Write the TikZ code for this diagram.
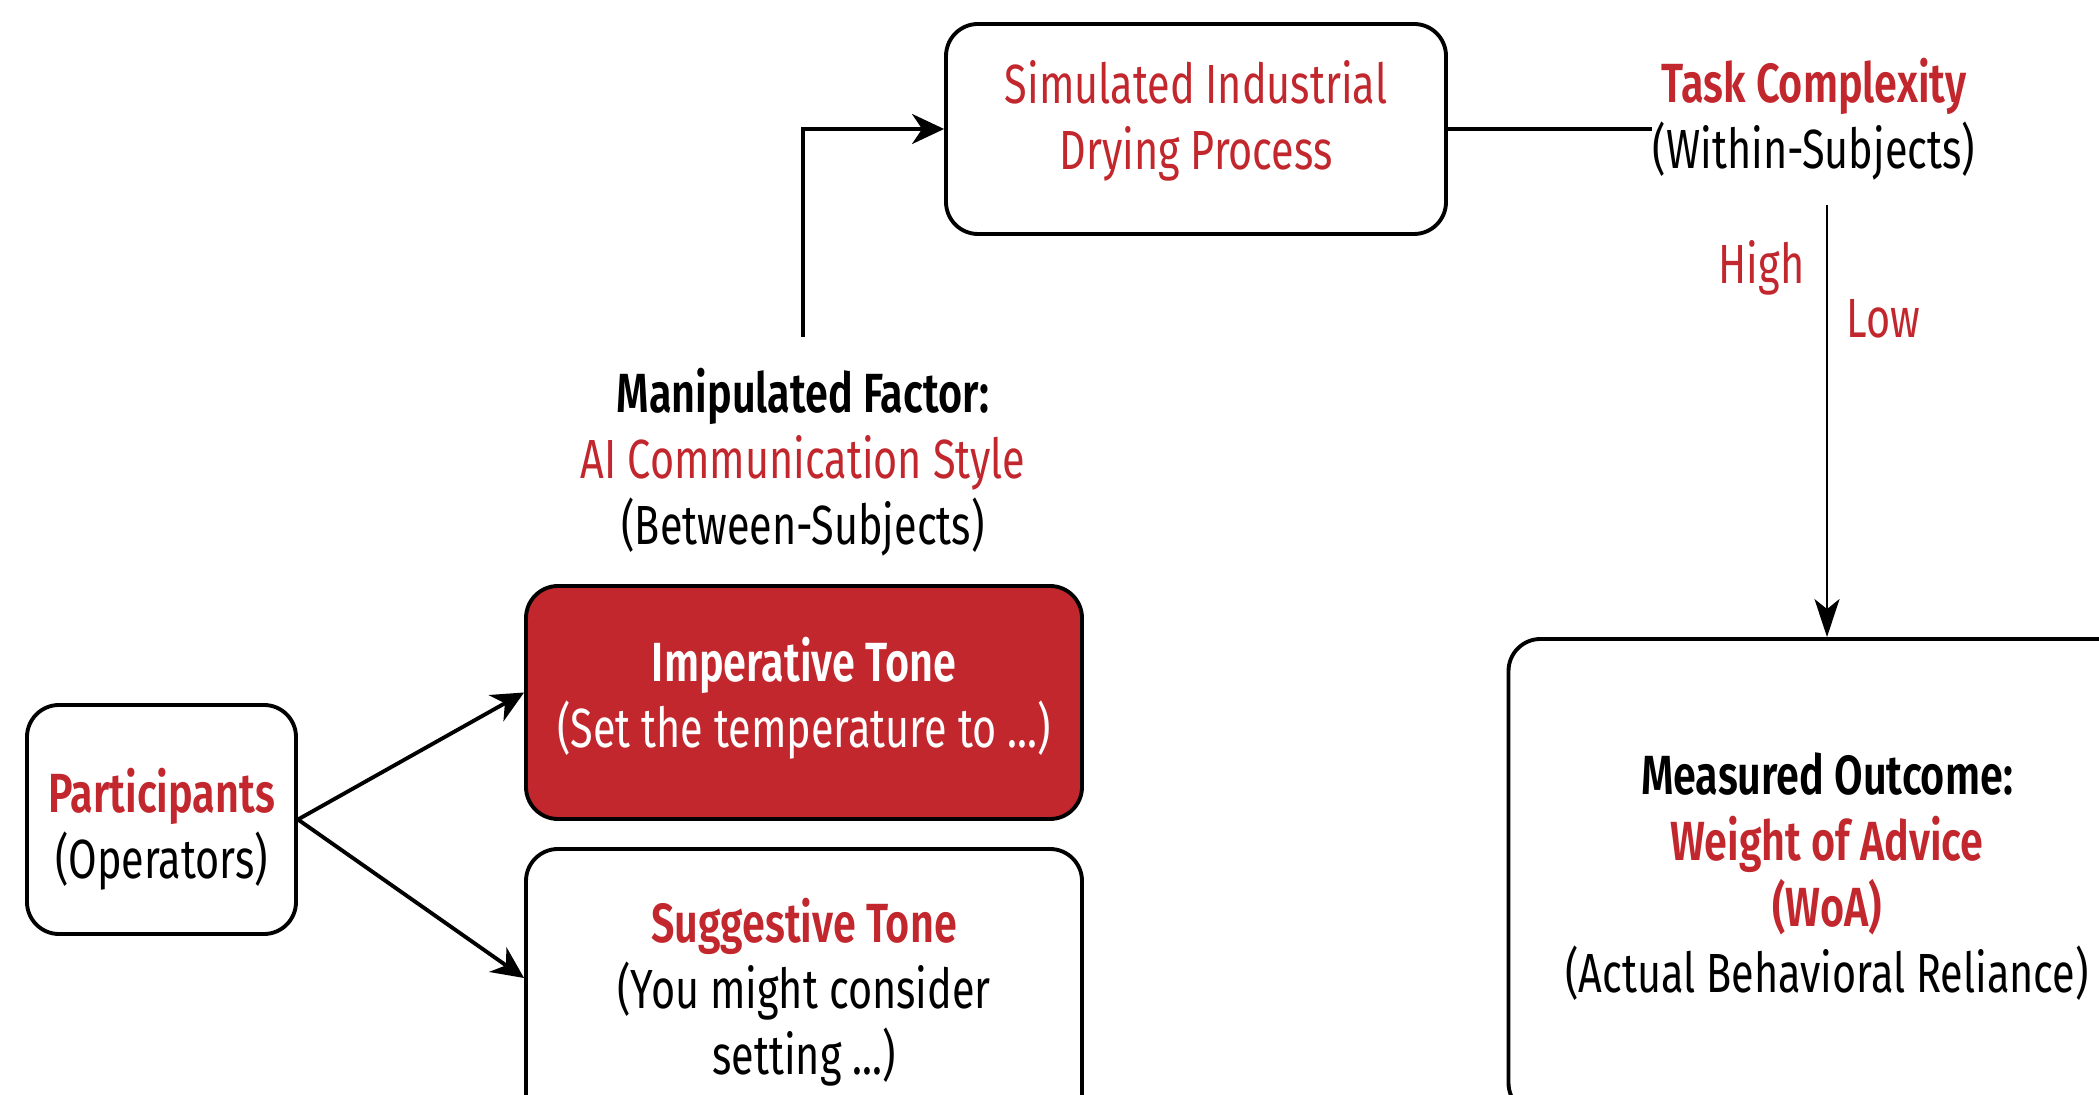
\documentclass[tikz,border=0pt]{standalone}
\usepackage{fontspec}
\setmainfont{Fira Sans}[FakeStretch=0.75, BoldFont={Fira Sans SemiBold}]
\usepackage{xcolor}
\usepackage{tikz}
\usetikzlibrary{shapes,arrows,positioning,calc,arrows.meta}

\definecolor{accent}{HTML}{C1272D}

\tikzset{
    stage/.style={draw, line width=1.1pt, rounded corners=0.32cm, align=center, inner sep=0pt},
    flow/.style={line width=1.1pt, -{Stealth[length=0.32cm, width=0.3cm, inset=0.1cm]}},
    plain/.style={align=center, inner sep=0pt}
}

\begin{document}
\begin{tikzpicture}[font=\fontsize{15.7}{18.8}\selectfont]
        \useasboundingbox (0,0) rectangle (20.99,10.94);
        % Boxes
        \node[stage, minimum width=5.0cm, minimum height=2.1cm] (sim) at (11.96,9.65)
            {\textcolor{accent}{Simulated Industrial}\\ \textcolor{accent}{Drying Process}\rule[-0.28cm]{0pt}{0pt}};
        \node[stage, minimum width=2.69cm, minimum height=2.29cm] (part) at (1.615,2.745)
            {\rule{0pt}{0.64cm}\textcolor{accent}{\bfseries Participants}\\ (Operators)};
        \node[stage, fill=accent, text=white, minimum width=5.56cm, minimum height=2.33cm] (imp) at (8.04,3.915)
            {\bfseries Imperative Tone\\ (Set the temperature to ...)\rule[-0.2cm]{0pt}{0pt}};
        \node[stage, minimum width=5.56cm, minimum height=2.86cm] (sug) at (8.04,1.02)
            {\textcolor{accent}{\bfseries Suggestive Tone}\\ (You might consider\\ setting ...)};
        \node[stage, minimum width=6.37cm, minimum height=4.76cm] (woa) at (18.27,2.17)
            {\bfseries Measured Outcome:\\ \textcolor{accent}{\bfseries Weight of Advice}\\ \textcolor{accent}{\bfseries (WoA)}\\ (Actual Behavioral Reliance)};
        % Labels
        \node[plain] (manip) at (8.03,6.32)
            {\bfseries Manipulated Factor:\\ \textcolor{accent}{AI Communication Style}\\ (Between-Subjects)};
        \node[plain] (task) at (18.14,9.75)
            {\textcolor{accent}{\bfseries Task Complexity}\\ (Within-Subjects)};
        \node[plain, anchor=east, text=accent] (high) at (18.05,8.26) {High};
        \node[plain, anchor=west, text=accent] (low) at (18.46,7.75) {Low};
        % Connectors
        \coordinate (split) at ($(woa.north)+(0,4.32)$);
        \draw[flow] (part.east) -- ([yshift=0.1cm]imp.west);
        \draw[flow] (part.east) -- ([yshift=0.14cm]sug.west);
        \draw[flow] ([yshift=0.3cm]manip.north) |- (sim.west);
        \draw[line width=1.1pt] (sim.east) -- (sim.east -| task.west);
        \draw[line width=0.6pt, -{Stealth[length=0.38cm, width=0.25cm, inset=0.1cm]}] (split) -- (woa.north);
    \end{tikzpicture}
\end{document}
